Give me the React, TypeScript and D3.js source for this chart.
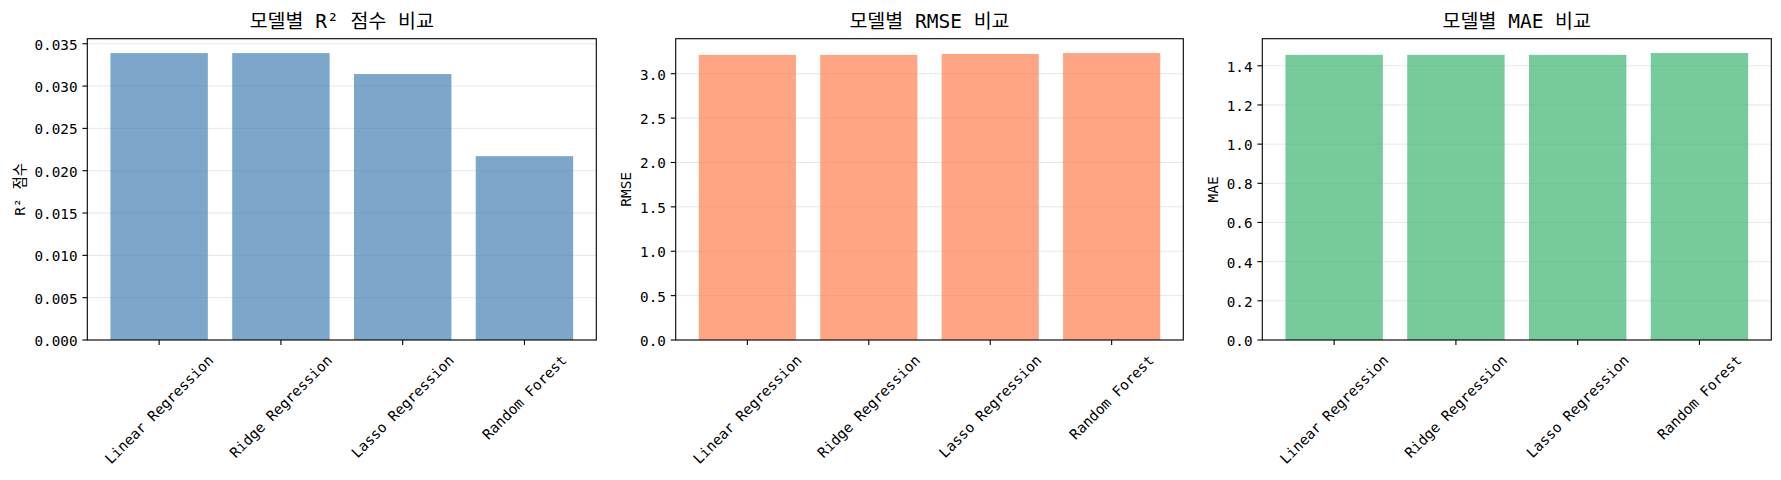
import React from "react";
import * as d3 from "d3";

const models = ["Linear Regression", "Ridge Regression", "Lasso Regression", "Random Forest"];
const r2Values = [0.0339, 0.0339, 0.03142, 0.02172];
const rmseValues = [3.212, 3.212, 3.222, 3.233];
const maeValues = [1.456, 1.456, 1.456, 1.465];

const r2Ticks = [0, 0.005, 0.01, 0.015, 0.02, 0.025, 0.03, 0.035];
const rmseTicks = [0, 0.5, 1.0, 1.5, 2.0, 2.5, 3.0];
const maeTicks = [0, 0.2, 0.4, 0.6, 0.8, 1.0, 1.2, 1.4];

const titles = ["모델별 R² 점수 비교", "모델별 RMSE 비교", "모델별 MAE 비교"];
const yLabels = ["R² 점수", "RMSE", "MAE"];

const W = 1781;
const H = 480;
const FONT = "'DejaVu Sans Mono', 'Noto Sans CJK KR', monospace";
const TICK_FS = 14.3;
const CHAR_W = 0.602 * TICK_FS;

type PanelProps = {
  left: number;
  right: number;
  values: number[];
  ticks: number[];
  fmt: (v: number) => string;
  color: string;
  title: string;
  ylabel: string;
};

function Panel({ left, right, values, ticks, fmt, color, title, ylabel }: PanelProps) {
  const top = 38.7;
  const bottom = 340;
  const x = d3.scaleLinear().domain([-0.59, 3.59]).range([left, right]);
  const ymax = (d3.max(values) as number) * 1.05;
  const y = d3.scaleLinear().domain([0, ymax]).range([bottom, top]);
  const tickLen = 4.9;
  const pad = 4.9;
  const labels = ticks.map(fmt);
  const maxW = d3.max(labels, (l) => l.length * CHAR_W) as number;
  const ylabelX = left - tickLen - pad - maxW - 5.6 - 3.5;
  const cx = (left + right) / 2;
  const cy = (top + bottom) / 2;
  return (
    <g fontFamily={FONT}>
      {ticks.map((t, i) => (
        <line key={"g" + i} x1={left} x2={right} y1={y(t)} y2={y(t)} stroke="#b0b0b0" strokeOpacity={0.3} strokeWidth={1} />
      ))}
      {values.map((v, i) => (
        <rect key={"b" + i} x={x(i - 0.4)} width={x(0.8) - x(0)} y={y(v)} height={y(0) - y(v)} fill={color} fillOpacity={0.7} />
      ))}
      <rect x={left} y={top} width={right - left} height={bottom - top} fill="none" stroke="#000" strokeWidth={1.1} />
      {ticks.map((t, i) => (
        <g key={"yt" + i}>
          <line x1={left - tickLen} x2={left} y1={y(t)} y2={y(t)} stroke="#000" strokeWidth={1.1} />
          <text x={left - tickLen - pad} y={y(t)} dy="0.42em" textAnchor="end" fontSize={TICK_FS} fill="#000">
            {labels[i]}
          </text>
        </g>
      ))}
      {models.map((m, i) => {
        const tx = x(i);
        const w = m.length * CHAR_W;
        const h = 1.17 * TICK_FS;
        const side = (w + h) / Math.SQRT2;
        const ty = bottom + tickLen + pad + side / 2 + 2;
        return (
          <g key={"xt" + i}>
            <line x1={tx} x2={tx} y1={bottom} y2={bottom + tickLen} stroke="#000" strokeWidth={1.1} />
            <text
              x={tx}
              y={ty}
              textAnchor="middle"
              dominantBaseline="central"
              fontSize={TICK_FS}
              fill="#000"
              transform={`rotate(-45, ${tx}, ${ty})`}
            >
              {m}
            </text>
          </g>
        );
      })}
      <text x={cx} y={28} textAnchor="middle" fontSize={19.5} fill="#000">
        {title}
      </text>
      <text
        x={ylabelX}
        y={cy}
        textAnchor="middle"
        fontSize={14.5}
        fill="#000"
        transform={`rotate(-90, ${ylabelX}, ${cy})`}
      >
        {ylabel}
      </text>
    </g>
  );
}

export default function App() {
  const panels = [
    { left: 87.3, right: 596.3, values: r2Values, ticks: r2Ticks, fmt: d3.format(".3f"), color: "#4682B4" },
    { left: 675.7, right: 1183.3, values: rmseValues, ticks: rmseTicks, fmt: d3.format(".1f"), color: "#FF7F50" },
    { left: 1262.3, right: 1771.3, values: maeValues, ticks: maeTicks, fmt: d3.format(".1f"), color: "#3CB371" },
  ];
  return (
    <svg width={W} height={H} style={{ position: "absolute", left: 0, top: 0, background: "#fff" }}>
      <rect x={0} y={0} width={W} height={H} fill="#fff" />
      {panels.map((p, i) => (
        <Panel key={i} {...p} title={titles[i]} ylabel={yLabels[i]} />
      ))}
    </svg>
  );
}
